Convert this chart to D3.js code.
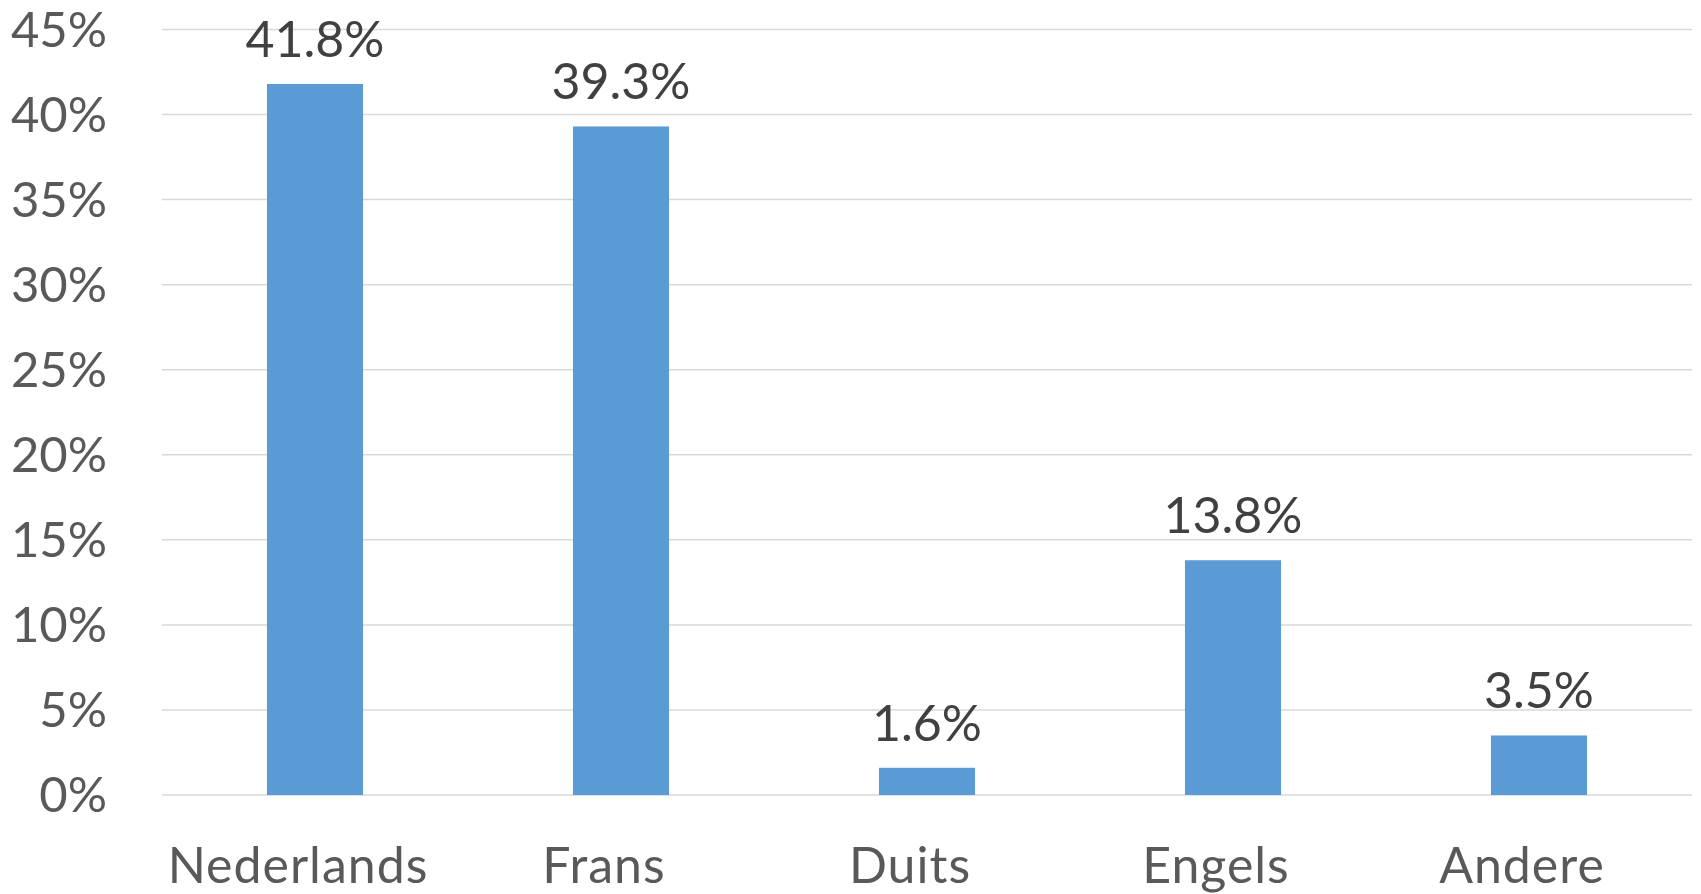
<!DOCTYPE html>
<html>
<head>
<meta charset="utf-8">
<script src="https://d3js.org/d3.v7.min.js"></script>
<style>
    body { margin: 0; background: #fff; }
    text { font-family: Lato, "Open Sans", sans-serif; }
</style>
</head>
<body>
<div id="chart"></div>
<script>
// chart data
var languages = ['Nederlands', 'Frans', 'Duits', 'Engels', 'Andere'];
var shares = [41.8, 39.3, 1.6, 13.8, 3.5];
var yTicks = [0, 5, 10, 15, 20, 25, 30, 35, 40, 45];

var width = 1701,
    height = 894;
var margin = { top: 29.5, right: 9, bottom: 99, left: 162 };

var svg = d3.select('#chart').append('svg')
    .attr('width', width)
    .attr('height', height);

var x = d3.scaleBand()
    .domain(languages)
    .range([margin.left, width - margin.right])
    .paddingInner(0.686)
    .paddingOuter(0.343);

var y = d3.scaleLinear()
    .domain([0, 45])
    .range([height - margin.bottom, margin.top]);

// gridlines
svg.append('g')
    .selectAll('line')
    .data(yTicks)
    .join('line')
    .attr('x1', margin.left)
    .attr('x2', width - margin.right)
    .attr('y1', function(d) { return y(d); })
    .attr('y2', function(d) { return y(d); })
    .style('stroke', '#d9d9d9')
    .style('stroke-width', 1.5);

// y axis labels
var yAxis = d3.axisLeft(y)
    .tickValues(yTicks)
    .tickFormat(function(d) { return d + '%'; })
    .tickSize(0)
    .tickPadding(0);

svg.append('g')
    .attr('transform', 'translate(' + (margin.left - 55) + ',0)')
    .call(yAxis)
    .call(function(g) { g.select('.domain').remove(); })
    .selectAll('text')
    .attr('dy', '0.34em')
    .style('font-size', '49px')
    .style('font-family', 'Lato, sans-serif')
    .style('fill', '#595959');

// bars
svg.append('g')
    .selectAll('rect')
    .data(languages)
    .join('rect')
    .attr('x', function(d) { return x(d); })
    .attr('width', x.bandwidth())
    .attr('y', function(d, i) { return y(shares[i]); })
    .attr('height', function(d, i) { return y(0) - y(shares[i]); })
    .style('fill', '#5b9bd5');

// value labels
svg.append('g')
    .selectAll('text')
    .data(languages)
    .join('text')
    .attr('x', function(d) { return x(d) + x.bandwidth() / 2; })
    .attr('y', function(d, i) { return y(shares[i]) - 27; })
    .attr('text-anchor', 'middle')
    .style('font-size', '50px')
    .style('fill', '#404040')
    .text(function(d, i) { return shares[i].toFixed(1) + '%'; });

// category labels
var xAxis = d3.axisBottom(x)
    .tickSize(0)
    .tickPadding(0);

svg.append('g')
    .attr('transform', 'translate(-17,' + (y(0) + 88) + ')')
    .call(xAxis)
    .call(function(g) { g.select('.domain').remove(); })
    .selectAll('text')
    .attr('dy', 0)
    .style('font-size', '50px')
    .style('font-family', 'Lato, sans-serif')
    .style('letter-spacing', '1px')
    .style('fill', '#595959');
</script>
</body>
</html>
